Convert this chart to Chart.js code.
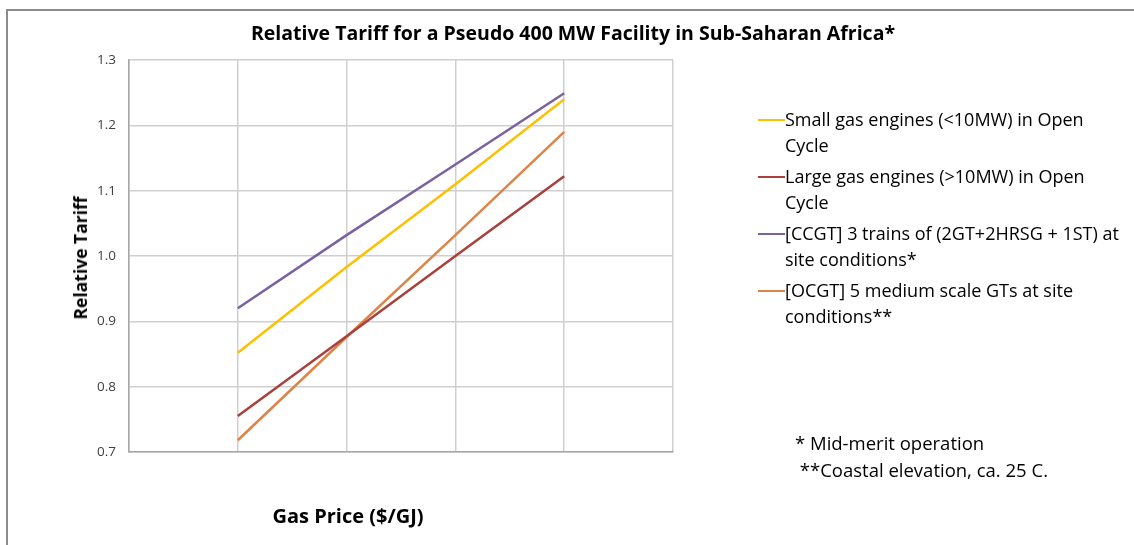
<!DOCTYPE html>
<html>
<head>
<meta charset="utf-8">
<script src="https://cdn.jsdelivr.net/npm/chart.js@4.4.1/dist/chart.umd.min.js"></script>
<style>
    html, body { margin: 0; padding: 0; background: #fff; overflow: hidden; }
    #wrap { position: relative; width: 1134px; height: 545px; font-family: 'Open Sans', sans-serif; color: #000; }
    #frame { position: absolute; left: 6px; top: 9px; width: 1300px; height: 700px; border: 2px solid #8c8c8c; box-sizing: border-box; }
    #chartBox { position: absolute; left: 0; top: 0; width: 1134px; height: 545px; }
    .title { position: absolute; left: 0; width: 1146px; top: 20px; line-height: 26px; text-align: center; font-weight: 700; font-size: 19.5px; }
    .ytitle { position: absolute; left: 80px; top: 258px; transform: translate(-50%, -50%) rotate(-90deg); font-weight: 700; font-size: 17.5px; white-space: nowrap; }
    .xtitle { position: absolute; left: 348px; top: 515px; transform: translate(-50%, -50%); font-weight: 700; font-size: 20px; white-space: nowrap; }
    #legend { position: absolute; left: 758px; top: 107px; width: 372px; font-size: 18px; line-height: 25.5px; }
    #legend .item { display: flex; align-items: flex-start; margin-bottom: 6px; }
    #legend .swatch { flex: 0 0 27px; height: 2px; margin-top: 12px; }
    #legend .txt { flex: 0 0 336px; }
    .notes { position: absolute; left: 795px; top: 429px; font-size: 18.5px; line-height: 27px; white-space: pre; }
</style>
</head>
<body>
<div id="wrap">
    <div id="frame"></div>
    <div id="chartBox"><canvas id="tariffChart" width="1134" height="545"></canvas></div>
    <div class="title">Relative Tariff for a Pseudo 400 MW Facility in Sub-Saharan Africa*</div>
    <div class="ytitle">Relative Tariff</div>
    <div class="xtitle">Gas Price ($/GJ)</div>
    <div id="legend"></div>
    <div class="notes">* Mid-merit operation
 **Coastal elevation, ca. 25 C.</div>
</div>

<script>
// ─── Data ───────────────────────────────────────────────────────────────
const gasPricePoints = [1, 2, 3, 4];   // category positions, no tick labels in the original
const yTicks = [0.7, 0.8, 0.9, 1.0, 1.1, 1.2, 1.3];

const seriesNames = [
    'Small gas engines (<10MW) in Open Cycle',
    'Large gas engines (>10MW) in Open Cycle',
    '[CCGT] 3 trains of (2GT+2HRSG + 1ST) at site conditions*',
    '[OCGT] 5 medium scale GTs at site conditions**'
];
const smallEngines = [0.852, 0.983, 1.110, 1.240];
const largeEngines = [0.755, 0.877, 1.000, 1.122];
const ccgt = [0.920, 1.032, 1.140, 1.249];
const ocgt = [0.718, 0.876, 1.032, 1.190];

const seriesColors = ['#FFC000', '#A8403C', '#7B61A0', '#DD8449'];

const toPoints = vals => vals.map((v, i) => ({ x: gasPricePoints[i], y: v }));

const datasets = [smallEngines, largeEngines, ccgt, ocgt].map((vals, i) => ({
    label: seriesNames[i],
    data: toPoints(vals),
    borderColor: seriesColors[i],
    backgroundColor: seriesColors[i],
    borderWidth: 2.5,
    pointRadius: 0,
    tension: 0,
    fill: false
}));

new Chart(document.getElementById('tariffChart'), {
    type: 'line',
    data: { datasets },
    options: {
        responsive: false,
        animation: false,
        layout: { padding: { top: 60, right: 461, bottom: 0, left: 0 } },
        plugins: {
            legend: { display: false },
            tooltip: { enabled: false }
        },
        scales: {
            x: {
                type: 'linear',
                min: 0,
                max: 5,
                ticks: { display: false, stepSize: 1 },
                grid: { color: '#cfcfcf', lineWidth: 1.5, drawTicks: false },
                border: { color: '#a6a6a6', width: 1.5 },
                afterFit: s => { s.height = 93; }
            },
            y: {
                min: 0.7,
                max: 1.3,
                afterBuildTicks: s => { s.ticks = yTicks.map(v => ({ value: v })); },
                ticks: {
                    padding: 13,
                    color: '#404040',
                    font: { family: "'Open Sans', sans-serif", size: 13.5 },
                    callback: v => v.toFixed(1)
                },
                grid: { color: '#cfcfcf', lineWidth: 1.5, drawTicks: false },
                border: { color: '#a6a6a6', width: 1.5 },
                afterFit: s => { s.width = 129; }
            }
        }
    }
});

// ─── HTML legend built from the datasets ────────────────────────────────
const legendEl = document.getElementById('legend');
datasets.forEach(ds => {
    const item = document.createElement('div');
    item.className = 'item';
    const sw = document.createElement('div');
    sw.className = 'swatch';
    sw.style.background = ds.borderColor;
    const txt = document.createElement('div');
    txt.className = 'txt';
    txt.textContent = ds.label;
    item.appendChild(sw);
    item.appendChild(txt);
    legendEl.appendChild(item);
});
</script>
</body>
</html>
